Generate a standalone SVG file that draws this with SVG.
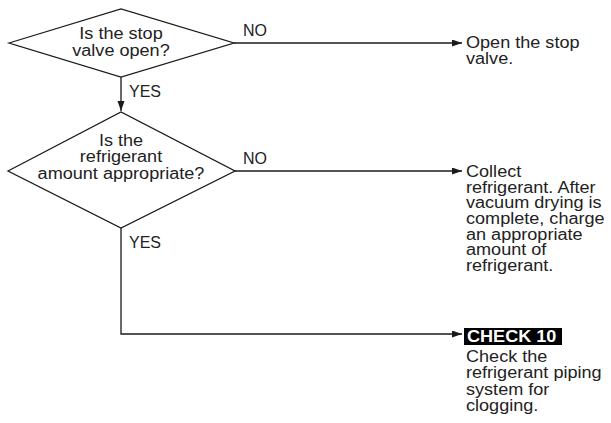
<svg xmlns="http://www.w3.org/2000/svg" width="611" height="423" viewBox="0 0 611 423">
  <style>
    .shape { fill: #ffffff; stroke: #1a1a1a; stroke-width: 1.3; }
    .wire { fill: none; stroke: #1a1a1a; stroke-width: 1.3; }
    .txt { font-family: "Liberation Sans", Arial, sans-serif; font-size: 16px; fill: #222222; }
    .mid { text-anchor: middle; }
    .tag { font-family: "Liberation Sans", Arial, sans-serif; font-size: 16px; font-weight: bold; fill: #ffffff; }
  </style>
  <defs>
    <marker id="arrow" markerUnits="userSpaceOnUse" markerWidth="11" markerHeight="8" refX="10" refY="3.5" orient="auto">
      <path d="M0,0 L10,3.5 L0,7 Z" fill="#1a1a1a"/>
    </marker>
  </defs>

  <rect width="611" height="423" fill="#ffffff"/>

  <!-- connectors -->
  <g id="connectors">
    <line class="wire" x1="234" y1="43" x2="462" y2="43" marker-end="url(#arrow)"/>
    <line class="wire" x1="121" y1="77" x2="121" y2="111" marker-end="url(#arrow)"/>
    <line class="wire" x1="235" y1="171" x2="462" y2="171" marker-end="url(#arrow)"/>
    <polyline class="wire" points="121,228 121,334 462,334" marker-end="url(#arrow)"/>
    <g class="txt">
      <text x="243" y="36">NO</text>
      <text x="129" y="97">YES</text>
      <text x="243" y="164">NO</text>
      <text x="129" y="248">YES</text>
    </g>
  </g>

  <!-- decision: stop valve -->
  <g id="q-stop-valve">
    <polygon class="shape" points="9,43 121,9 234,43 121,77"/>
    <g class="txt mid" transform="translate(121,0) scale(1.13,1)">
      <text x="0" y="39">Is the stop</text>
      <text x="0" y="56">valve open?</text>
    </g>
  </g>

  <!-- decision: refrigerant amount -->
  <g id="q-refrigerant">
    <polygon class="shape" points="8,171 121,112 235,171 121,228"/>
    <g class="txt mid" transform="translate(121,0) scale(1.13,1)">
      <text x="0" y="146">Is the</text>
      <text x="0" y="162.5">refrigerant</text>
      <text x="0" y="179.5">amount appropriate?</text>
    </g>
  </g>

  <!-- action: open valve -->
  <g id="a-open-valve">
    <g class="txt" transform="translate(466,0) scale(1.13,1)">
      <text x="0" y="48">Open the stop</text>
      <text x="0" y="64.5">valve.</text>
    </g>
  </g>

  <!-- action: recharge -->
  <g id="a-recharge">
    <g class="txt" transform="translate(466,0) scale(1.13,1)">
      <text x="0" y="177">Collect</text>
      <text x="0" y="192.7">refrigerant. After</text>
      <text x="0" y="208.4">vacuum drying is</text>
      <text x="0" y="224.1">complete, charge</text>
      <text x="0" y="239.8">an appropriate</text>
      <text x="0" y="255.5">amount of</text>
      <text x="0" y="271.2">refrigerant.</text>
    </g>
  </g>

  <!-- action: check 10 -->
  <g id="a-check10">
    <rect x="464" y="328" width="98" height="17" fill="#000000"/>
    <g transform="translate(467,0) scale(1.13,1)">
      <text class="tag" x="0" y="342.5">CHECK 10</text>
    </g>
    <g class="txt" transform="translate(466,0) scale(1.13,1)">
      <text x="0" y="362">Check the</text>
      <text x="0" y="378.5">refrigerant piping</text>
      <text x="0" y="395">system for</text>
      <text x="0" y="411.5">clogging.</text>
    </g>
  </g>
</svg>
